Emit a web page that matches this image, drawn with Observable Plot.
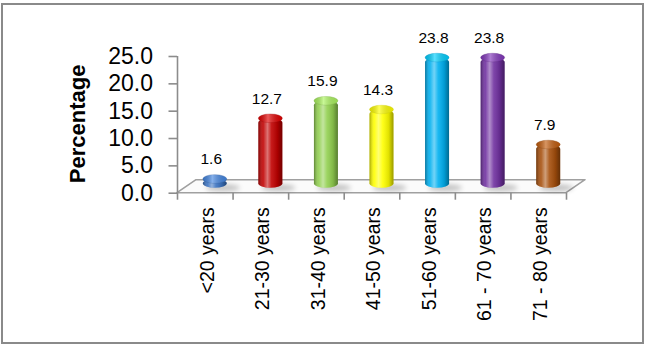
<!DOCTYPE html>
<html>
<head>
<meta charset="utf-8">
<script src="https://cdn.jsdelivr.net/npm/d3@7"></script>
<script src="https://cdn.jsdelivr.net/npm/@observablehq/plot@0.6"></script>
<style>
  html, body { margin: 0; padding: 0; background: #fff; }
  #wrap { position: relative; width: 646px; height: 352px; overflow: hidden; }
  #wrap svg { position: absolute; left: 0; top: 0; }
  #frame { position: absolute; left: 1px; top: 3px; width: 643px; height: 341px; box-sizing: border-box;
           border: 2px solid #8a8a8a; pointer-events: none; }
</style>
</head>
<body>
<div id="wrap"><div id="frame"></div></div>
<script>
const categories = ["<20 years", "21-30 years", "31-40 years", "41-50 years", "51-60 years", "61 - 70 years", "71 - 80 years"];
const percentages = [1.6, 12.7, 15.9, 14.3, 23.8, 23.8, 7.9];
const barColors = ["#3a72c0", "#c00000", "#92d050", "#ffff00", "#00b0f0", "#7030a0", "#a64f0c"];
const yTicks = [0, 5, 10, 15, 20, 25];
const yLabel = "Percentage";

const data = categories.map((c, i) => ({
  category: c, i, value: percentages[i], color: barColors[i],
  cap: d3.color(barColors[i]).brighter(0.45).formatHex(),
  edge: d3.color(barColors[i]).darker(0.6).formatHex()
}));

const n = categories.length;
const DX = 10, DY = -5, INSET = 15.8;
const font = "'Liberation Sans', Arial, sans-serif";

const defs = () => {
  const d = d3.create("svg:defs");
  const g = d.append("linearGradient").attr("id", "shine").attr("x1", 0).attr("x2", 1).attr("y1", 0).attr("y2", 0);
  [[0, "#000", 0.35], [0.2, "#fff", 0.1], [0.38, "#fff", 0.45], [0.55, "#fff", 0.1], [0.8, "#000", 0.12], [1, "#000", 0.4]]
    .forEach(([o, c, a]) => g.append("stop").attr("offset", o).attr("stop-color", c).attr("stop-opacity", a));
  const c = d.append("linearGradient").attr("id", "capshine").attr("x1", 0).attr("x2", 1).attr("y1", 0).attr("y2", 0);
  [[0, "#000", 0.15], [0.4, "#fff", 0.35], [1, "#000", 0.1]]
    .forEach(([o, col, a]) => c.append("stop").attr("offset", o).attr("stop-color", col).attr("stop-opacity", a));
  const f = d.append("filter").attr("id", "soft").attr("x", "-50%").attr("y", "-200%").attr("width", "200%").attr("height", "500%");
  f.append("feGaussianBlur").attr("stdDeviation", 2.5);
  return d.node();
};

const floor = (index, scales) => {
  const x = scales.x, y = scales.y;
  const x0 = x(0), x1 = x(n), y0 = y(0);
  const g = d3.create("svg:g");
  g.append("polygon")
    .attr("points", [[x0, y0], [x1, y0], [x1 + 19, y0 - 13], [x0 + 19, y0 - 13]].map(p => p.join(",")).join(" "))
    .attr("fill", "#fbfbfb").attr("stroke", "#a0a0a0").attr("stroke-width", 1.6).attr("stroke-linejoin", "round");
  data.forEach(d => {
    const cx = (x(d.i) + x(d.i + 1)) / 2 + DX + 8;
    g.append("ellipse").attr("cx", cx).attr("cy", y0 + DY).attr("rx", 17).attr("ry", 3.5)
      .attr("fill", "#000").attr("opacity", 0.22).attr("filter", "url(#soft)");
  });
  return g.node();
};

const chart = Plot.plot({
  width: 646,
  height: 352,
  marginLeft: 177,
  marginRight: 80,
  marginTop: 56,
  marginBottom: 159.3,
  style: { fontFamily: font, background: "transparent", color: "#000", overflow: "visible" },
  color: { type: "identity" },
  x: { domain: [0, n], axis: null },
  y: { domain: [0, 25], axis: null },
  marks: [
    defs,
    floor,
    Plot.ruleX([0], { y1: 0, y2: 25, stroke: "#8c8c8c", strokeWidth: 1.6 }),
    Plot.axisY(yTicks, {
      tickFormat: d3.format(".1f"), tickSize: 8.5, tickPadding: 16, fontSize: 23,
      stroke: "#8c8c8c", strokeWidth: 1.6, strokeOpacity: 1, fill: "#000", label: null
    }),
    Plot.axisX(d3.range(n + 1), {
      tickFormat: () => "", tickSize: 7, stroke: "#8c8c8c", strokeWidth: 1.6, strokeOpacity: 1, label: null
    }),
    Plot.rect(data, { x1: "i", x2: d => d.i + 1, y1: 0, y2: "value", fill: "color",
      insetLeft: INSET, insetRight: INSET, rx: 12, ry: 4.5, dx: DX, dy: DY }),
    Plot.rect(data, { x1: "i", x2: d => d.i + 1, y1: 0, y2: "value", fill: "url(#shine)",
      insetLeft: INSET, insetRight: INSET, rx: 12, ry: 4.5, dx: DX, dy: DY }),
    Plot.rect(data, { x1: "i", x2: d => d.i + 1, y1: "value", y2: "value", fill: "cap",
      stroke: "edge", strokeWidth: 0.6, strokeOpacity: 0.5,
      insetLeft: INSET, insetRight: INSET, insetTop: -4.3, insetBottom: -4.3, rx: 12, ry: 4.3, dx: DX, dy: DY }),
    Plot.rect(data, { x1: "i", x2: d => d.i + 1, y1: "value", y2: "value", fill: "url(#capshine)",
      insetLeft: INSET, insetRight: INSET, insetTop: -4.3, insetBottom: -4.3, rx: 12, ry: 4.3, dx: DX, dy: DY }),
    Plot.text(data, { x: d => d.i + 0.5, y: "value", text: d => d.value.toFixed(1),
      dx: 6, dy: -25, fontSize: 15.5, fill: "#000" }),
    Plot.text(data, { x: d => d.i + 0.5, y: 0, text: "category", rotate: -90, textAnchor: "end",
      dx: 2, dy: 14, fontSize: 19.5, fill: "#000" }),
    Plot.text([yLabel], { text: d => d, frameAnchor: "left", textAnchor: "middle", rotate: -90, dx: -100, dy: -1,
      fontSize: 22, fontWeight: "bold", fill: "#000" })
  ]
});

document.getElementById("wrap").prepend(chart);
</script>
</body>
</html>
